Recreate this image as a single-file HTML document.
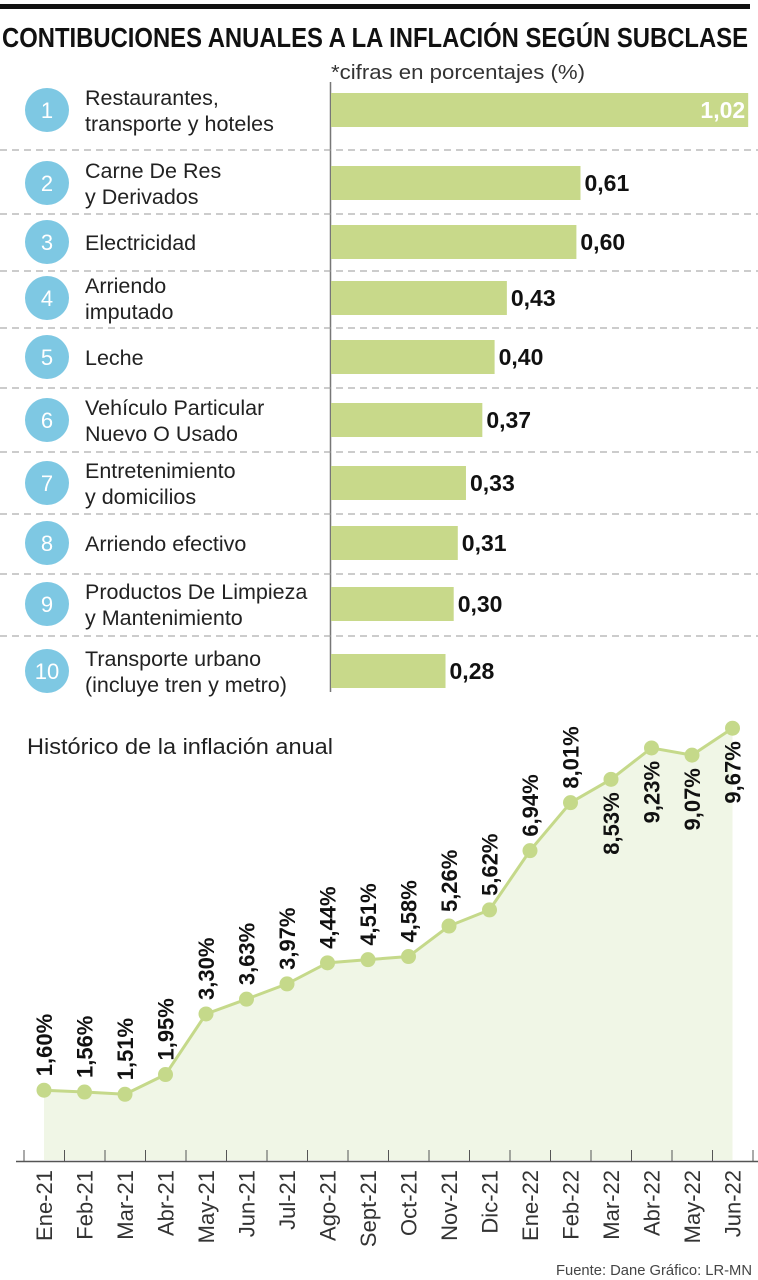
<!DOCTYPE html>
<html><head><meta charset="utf-8"><style>
html,body{margin:0;padding:0;background:#fff;}
svg{display:block;font-family:"Liberation Sans",sans-serif;}
</style></head><body>
<svg id="chart" width="758" height="1280" viewBox="0 0 758 1280" xmlns="http://www.w3.org/2000/svg">
<rect x="0" y="4" width="750" height="5" fill="#111"/>
<text x="2" y="47" font-size="28" font-weight="bold" fill="#111" textLength="746" lengthAdjust="spacingAndGlyphs">CONTIBUCIONES ANUALES A LA INFLACIÓN SEGÚN SUBCLASE</text>
<text x="331" y="79" font-size="20" fill="#333" textLength="254" lengthAdjust="spacingAndGlyphs">*cifras en porcentajes (%)</text>
<line x1="330.5" y1="82" x2="330.5" y2="692" stroke="#777" stroke-width="1.5"/>
<g id="bars"></g>
<text x="27" y="754" font-size="22" fill="#222" textLength="306" lengthAdjust="spacingAndGlyphs">Histórico de la inflación anual</text>
<g id="line"></g>
<text x="752" y="1275" font-size="15" fill="#444" text-anchor="end" textLength="196" lengthAdjust="spacingAndGlyphs">Fuente: Dane    Gráfico: LR-MN</text>
</svg>
<script>
const barCats = [["Restaurantes,","transporte y hoteles"],["Carne De Res","y Derivados"],["Electricidad"],["Arriendo","imputado"],["Leche"],["Vehículo Particular","Nuevo O Usado"],["Entretenimiento","y domicilios"],["Arriendo efectivo"],["Productos De Limpieza","y Mantenimiento"],["Transporte urbano","(incluye tren y metro)"]];
const barValues = [1.02,0.61,0.60,0.43,0.40,0.37,0.33,0.31,0.30,0.28];
const barLabels = ["1,02","0,61","0,60","0,43","0,40","0,37","0,33","0,31","0,30","0,28"];
const months = ["Ene-21","Feb-21","Mar-21","Abr-21","May-21","Jun-21","Jul-21","Ago-21","Sept-21","Oct-21","Nov-21","Dic-21","Ene-22","Feb-22","Mar-22","Abr-22","May-22","Jun-22"];
const inflation = [1.60,1.56,1.51,1.95,3.30,3.63,3.97,4.44,4.51,4.58,5.26,5.62,6.94,8.01,8.53,9.23,9.07,9.67];
const inflLabels = ["1,60%","1,56%","1,51%","1,95%","3,30%","3,63%","3,97%","4,44%","4,51%","4,58%","5,26%","5,62%","6,94%","8,01%","8,53%","9,23%","9,07%","9,67%"];

const NS="http://www.w3.org/2000/svg";
function mk(tag,attrs,parent){const e=document.createElementNS(NS,tag);for(const k in attrs)e.setAttribute(k,attrs[k]);parent.appendChild(e);return e;}
const rowCenters=[110,183,242,298,357,420,483,543,604,671];
const seps=[150,214,271,328,388,452,514,574,636];
const bx=v=>331+v*409;
const gb=document.getElementById('bars');
seps.forEach(y=>{const l=mk('line',{x1:0,x2:758,y1:y,y2:y,stroke:'#999','stroke-width':1,'stroke-dasharray':'7,5'},gb);

});
barValues.forEach((v,i)=>{
  const cy=rowCenters[i];
  const c=mk('circle',{cx:47,cy:cy,r:22,fill:'#7ec8e3'},gb);
  
  
  const n=mk('text',{x:47,y:cy+8,'font-size':22,fill:'#fff','text-anchor':'middle'},gb);n.textContent=String(i+1);
  
  
  const lines=barCats[i];
  lines.forEach((t,j)=>{
    const yy=lines.length===1?cy+8:cy-5+j*26;
    const tx=mk('text',{x:85,y:yy,'font-size':21.5,fill:'#222'},gb);tx.textContent=t;
    
    
  });
  const r=mk('rect',{x:331,y:cy-17,width:bx(v)-331,height:34,fill:'#c8d98a'},gb);
  
  
  let vt;
  if(i===0){vt=mk('text',{x:bx(v)-3,y:cy+8,'font-size':23,'font-weight':'bold',fill:'#fff','text-anchor':'end'},gb);}
  else{vt=mk('text',{x:bx(v)+4,y:cy+8,'font-size':23,'font-weight':'bold',fill:'#111'},gb);}
  vt.textContent=barLabels[i];
  
  
});

const gl=document.getElementById('line');
const lx=i=>44+i*40.5;
const ly=v=>1162-v*44.86;
let d='M'+lx(0)+','+ly(inflation[0]);
inflation.forEach((v,i)=>{if(i)d+=' L'+lx(i)+','+ly(v);});
const area=mk('path',{d:d+' L'+lx(inflation.length-1)+',1160 L'+lx(0)+',1160 Z',fill:'#f0f6e6'},gl);


const ax=mk('line',{x1:16,x2:758,y1:1161.5,y2:1161.5,stroke:'#555','stroke-width':1.5},gl);


for(let i=0;i<=months.length;i++){const t=mk('line',{x1:lx(i)-20,x2:lx(i)-20,y1:1150,y2:1162,stroke:'#555','stroke-width':1},gl);

}
const ln=mk('path',{d:d,fill:'none',stroke:'#c5d98a','stroke-width':3},gl);


inflation.forEach((v,i)=>{
  const x=lx(i),y=ly(v);
  const p=mk('circle',{cx:x,cy:y,r:7.5,fill:'#c5d98a'},gl);
  
  
  const below=i>=14;
  let t;
  if(below){t=mk('text',{x:0,y:0,'font-size':22,'font-weight':'bold',fill:'#111','text-anchor':'end',transform:`translate(${x+8},${y+13}) rotate(-90)`},gl);}
  else{t=mk('text',{x:0,y:0,'font-size':22,'font-weight':'bold',fill:'#111','text-anchor':'start',transform:`translate(${x+8},${y-14}) rotate(-90)`},gl);}
  t.textContent=inflLabels[i];
  
  
  const m=mk('text',{x:0,y:0,'font-size':22,fill:'#333','text-anchor':'end',transform:`translate(${x+8},1170) rotate(-90)`},gl);
  m.textContent=months[i];
  
  
});
</script>
</body></html>
